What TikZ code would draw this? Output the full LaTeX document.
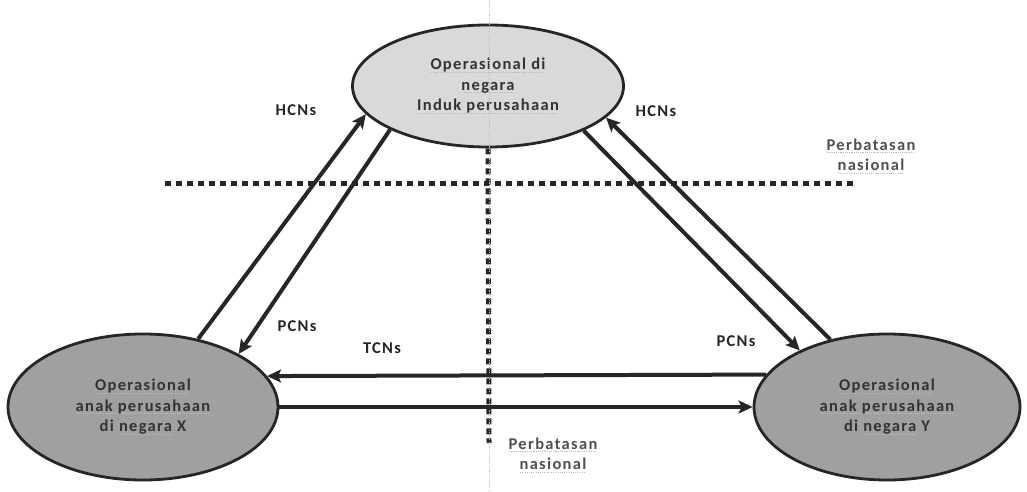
\documentclass[tikz,border=0pt]{standalone}
\usepackage{fontspec}
\setmainfont{Carlito}
\usetikzlibrary{arrows.meta,shapes.geometric}

\definecolor{inkdark}{HTML}{262626}
\definecolor{textgray}{HTML}{333333}
\definecolor{hostfill}{HTML}{D9D9D9}
\definecolor{subfill}{HTML}{A0A0A0}
\definecolor{bordergray}{HTML}{505050}

% bold label font, slightly tracked
\newcommand\lblfont{\bfseries\fontsize{16.5}{20.5}\selectfont\addfontfeature{LetterSpace=8}}
% faint dotted underline under a line of text
\newcommand\markedline[1]{\setbox0=\hbox{#1}\rlap{\raisebox{-3pt}{\color{gray!55}\leaders\hbox to 2.2pt{\hss\rule{1.1pt}{0.9pt}\hss}\hskip\wd0}}\box0\relax}

\tikzset{
  opnode/.style={ellipse, draw=inkdark, line width=2.8pt, inner sep=0pt,
    text=textgray, font=\lblfont, align=center},
  flow/.style={draw=inkdark, line width=4pt,
    -{Stealth[length=14pt,width=13pt,inset=3pt]}},
  tag/.style={font=\lblfont, text=inkdark},
  borderlbl/.style={font=\lblfont, text=bordergray, align=center},
  borderline/.style={draw=inkdark, line width=5pt},
}

\begin{document}
\begin{tikzpicture}[x=1pt,y=-1pt]
  \useasboundingbox (0,0) rectangle (1027,492);
  \fill[white] (0,0) rectangle (1027,492);

  % national borders
  \draw[borderline, dash pattern=on 5.5pt off 5.5pt] (165,183) -- (853,183);

  % operations
  \node[opnode, fill=hostfill, minimum width=271pt, minimum height=122pt] (T) at (488,86)
    {\markedline{Operasional di}\\\markedline{negara}\\\markedline{Induk perusahaan}};
  \node[opnode, fill=subfill, minimum width=270pt, minimum height=146pt] (X) at (143,407)
    {\markedline{Operasional}\\\markedline{anak perusahaan}\\di \markedline{negara} X};
  \node[opnode, fill=subfill, minimum width=266pt, minimum height=146pt] (Y) at (887,407)
    {\markedline{Operasional}\\\markedline{anak perusahaan}\\di \markedline{negara} Y};

  \coordinate (vend) at (489,443);
  \draw[borderline, dash pattern=on 6pt off 4pt] (T.south) -- (vend);
  \draw[gray!50, line width=0.6pt, dash pattern=on 1.2pt off 1.2pt] (489,0) -- (489,492);

  % staff flows
  \draw[flow] (X.51) -- (T.193.4);
  \draw[flow] (T.204.4) -- (X.29.7);
  \draw[flow] (T.335.8) -- (Y.147.5);
  \draw[flow] (Y.130.1) -- (T.345.9);
  \draw[flow] (Y.165) -- (X.14.8);
  \draw[flow] (X.east) -- (Y.west);

  % flow labels
  \node[tag] (hl) at (296,110) {HCNs};
  \node[tag] (hr) at (656,111) {HCNs};
  \node[tag] (pl) at (297,326) {PCNs};
  \node[tag] (pr) at (736,341) {PCNs};
  \node[tag] (tc) at (382,348) {TCNs};

  % border labels
  \node[borderlbl] (b1) at (871,156) {\markedline{Perbatasan}\\\markedline{nasional}};
  \node[borderlbl] (b2) at (553,455) {\markedline{Perbatasan}\\\markedline{nasional}};
\end{tikzpicture}
\end{document}
